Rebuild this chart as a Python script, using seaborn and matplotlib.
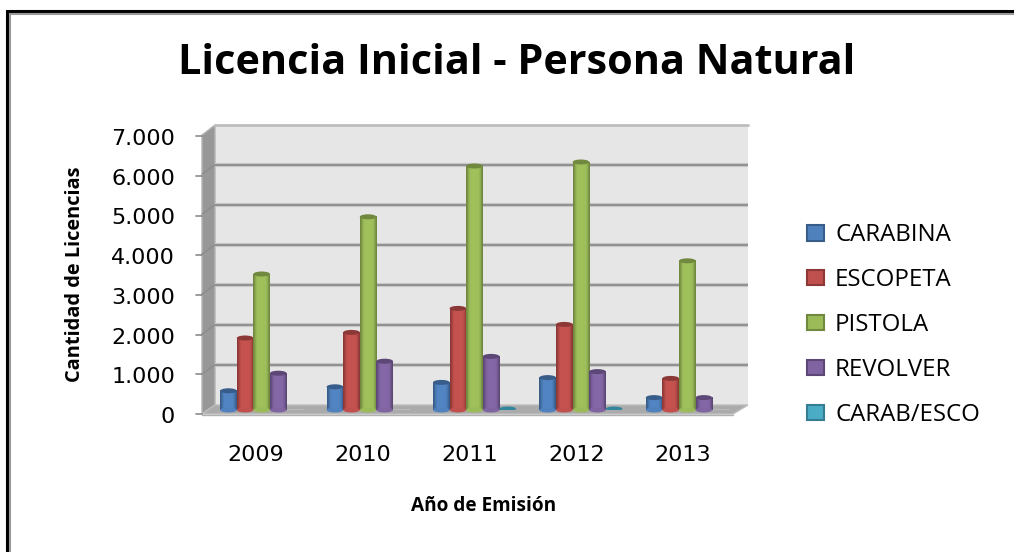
import numpy as np
import pandas as pd
import matplotlib
matplotlib.use("Agg")
import matplotlib.pyplot as plt
from matplotlib.patches import Ellipse, Polygon, Rectangle
import seaborn as sns

years = ["2009", "2010", "2011", "2012", "2013"]
series_names = ["CARABINA", "ESCOPETA", "PISTOLA", "REVOLVER", "CARAB/ESCO"]
carabina = [480, 580, 690, 810, 310]
escopeta = [1800, 1940, 2540, 2140, 790]
pistola = [3400, 4830, 6100, 6200, 3730]
revolver = [920, 1220, 1340, 960, 310]
carab_esco = [0, 0, 30, 30, 0]
face_colors = ["#4F81BD", "#C0504D", "#9BBB59", "#8064A2", "#4BACC6"]
edge_colors = ["#385D8A", "#8C3836", "#71893F", "#5C4776", "#357D91"]
y_ticks = [0, 1000, 2000, 3000, 4000, 5000, 6000, 7000]

W, H = 1014, 552
df = pd.DataFrame({"year": years, "CARABINA": carabina, "ESCOPETA": escopeta,
                   "PISTOLA": pistola, "REVOLVER": revolver, "CARAB/ESCO": carab_esco})
long_df = df.melt(id_vars="year", var_name="serie", value_name="n")

sns.set_theme(style="white")
fig = plt.figure(figsize=(W / 100, H / 100), dpi=100, facecolor="white")

# full-figure pixel overlay for frames and chart walls
bg = fig.add_axes([0, 0, 1, 1], zorder=0)
bg.set_xlim(0, W); bg.set_ylim(H, 0); bg.axis("off")
bg.plot([6.5, 6.5, W], [H, 10.5, 10.5], color="black", lw=2.2, solid_joinstyle="miter")
bg.plot([10, 10, W], [H, 13.5, 13.5], color="#999999", lw=1.5, solid_joinstyle="miter")
bg.add_patch(Polygon([(215, 125), (748, 125), (748, 405), (215, 405)], fc="#E6E6E6", ec="none"))
bg.add_patch(Polygon([(202, 135), (215, 125), (215, 405), (202, 414)], fc="#989898", ec="#B5B5B5", lw=1))
bg.add_patch(Polygon([(202, 414), (215, 405), (748, 405), (733, 414)], fc="#ABABAB", ec="#BDBDBD", lw=1))
bg.plot([215, 748], [125, 125], color="#BDBDBD", lw=2)
for i in range(1, 7):
    yb = 405 - i * 40
    bg.plot([215, 748], [yb, yb], color="#C8C8C8", lw=3, solid_capstyle="butt")
    bg.plot([215, 748], [yb, yb], color="#8C8C8C", lw=1.3, solid_capstyle="butt")
    bg.plot([202, 215], [yb + 9, yb], color="#8C8C8C", lw=1)
for i in range(0, 8):
    yf = 414 - i * 39.7
    bg.plot([196, 202], [yf, yf], color="#8A8A8A", lw=1.2)
bg.plot([202, 733], [414.5, 414.5], color="#B0B0B0", lw=1)

# bars
ax = fig.add_axes([208.5 / W, 1 - 410 / H, 532 / W, 280 / H], zorder=2)
ax.patch.set_alpha(0)
sns.barplot(data=long_df, x="year", y="n", hue="serie", hue_order=series_names,
            palette=face_colors, width=0.78, gap=0, dodge=True, legend=False, ax=ax,
            errorbar=None, saturation=1)
ax.set_ylim(0, 7000)
ax.set_xlim(-0.5, 4.5)
sns.despine(ax=ax, left=True, bottom=True)
ax.set_yticks([]); ax.set_xticks([])
ax.set_xlabel(""); ax.set_ylabel("")

ppd = 280 / 7000  # pixels per unit
grad = np.array([0.0, .6, .95, 1, 1, 1, 1, .95, .65, 0.0]).reshape(1, -1, 1)
for k, cont in enumerate(ax.containers):
    for rect in cont.patches:
        v = rect.get_height()
        if v <= 0 or np.isnan(v):
            continue
        x0, w = rect.get_x(), rect.get_width()
        rect.set_visible(False)
        cap = 5.0 / ppd
        fc = np.array(matplotlib.colors.to_rgb(face_colors[k])).reshape(1, 1, 3)
        ec = np.array(matplotlib.colors.to_rgb(edge_colors[k])).reshape(1, 1, 3)
        img = ec + (fc * 1.03 - ec) * grad
        if v > 100:
            ax.imshow(np.clip(img, 0, 1), extent=(x0, x0 + w, 0, v), aspect="auto",
                      interpolation="bilinear", zorder=3 + k)
            ax.add_patch(Ellipse((x0 + w / 2, 0), w, cap, fc=face_colors[k], ec="none", zorder=3 + k,
                                 clip_on=False))
            ax.add_patch(Ellipse((x0 + w / 2, v), w, cap, fc=edge_colors[k], ec="none", zorder=3.5 + k))
        else:
            ax.add_patch(Ellipse((x0 + w / 2, v), w, cap * 0.9, fc="#31859C", ec="none", zorder=3 + k))
ax.set_xlim(-0.5, 4.5); ax.set_ylim(0, 7000)

# tick labels
fmt = lambda v: f"{v:,.0f}".replace(",", ".")
for v in y_ticks:
    bg.text(175, 417 - v * 0.0397, fmt(v), ha="right", va="center", fontsize=16,
            family="DejaVu Sans", color="black")
for i, yr in enumerate(years):
    bg.text(255.5 + i * 106.9, 455, yr, ha="center", va="center", fontsize=16,
            family="DejaVu Sans", color="black")

fig.text(516.5 / W, 1 - 64 / H, "Licencia Inicial - Persona Natural", ha="center", va="center",
         fontsize=29.8, fontweight="bold", family="Open Sans", color="black")
fig.text(75 / W, 1 - 274 / H, "Cantidad de Licencias", rotation=90, ha="center", va="center",
         fontsize=14.4, fontweight="bold", family="Open Sans", color="black")
fig.text(483.5 / W, 1 - 506 / H, "Año de Emisión", ha="center", va="center",
         fontsize=13.7, fontweight="bold", family="Open Sans", color="black")

# legend
handles = [Rectangle((0, 0), 1, 1, fc=f, ec=e, lw=1.5) for f, e in zip(face_colors, edge_colors)]
leg = fig.legend(handles, series_names, loc="center left", bbox_to_anchor=(807 / W, 1 - 325 / H),
                 frameon=False, ncol=1, handlelength=0.71, handleheight=0.62, handletextpad=0.46,
                 labelspacing=0.87, borderpad=0, borderaxespad=0,
                 prop={"family": "Open Sans", "size": 17.3})
for t in leg.get_texts():
    t.set_color("black")

fig.savefig("out.png", dpi=100)
